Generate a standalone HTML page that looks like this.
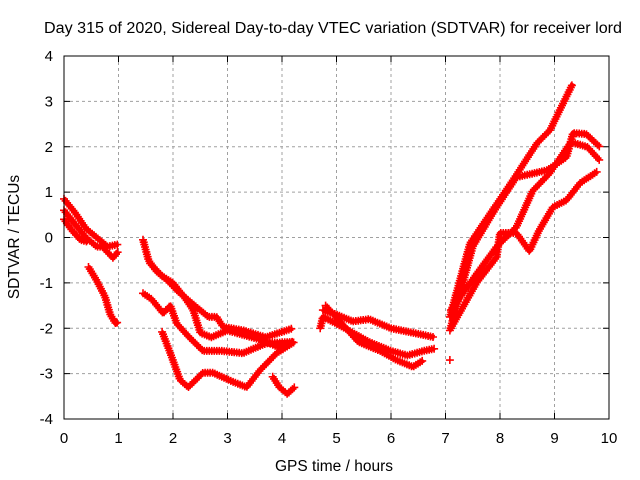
<!DOCTYPE html>
<html><head><meta charset="utf-8"><style>
html,body{margin:0;padding:0;background:#fff;}
svg{display:block;font-family:"Liberation Sans",sans-serif;}
</style></head><body>
<svg id="chart" width="640" height="480">
<text x="333" y="33" text-anchor="middle" font-size="15.5" textLength="578" lengthAdjust="spacingAndGlyphs">Day 315 of 2020, Sidereal Day-to-day VTEC variation (SDTVAR) for receiver lord</text>
<text transform="translate(19,237) rotate(-90)" text-anchor="middle" font-size="15.5">SDTVAR / TECUs</text>
<text x="334" y="471" text-anchor="middle" font-size="15.5">GPS time / hours</text>
<g id="grid"></g><g id="ticks"></g><g id="marks"></g>
<rect x="64" y="56" width="545" height="363" fill="none" stroke="#000" stroke-width="1"/>
</svg>
<script>
const xTicks=[0,1,2,3,4,5,6,7,8,9,10];
const yTicks=[-4,-3,-2,-1,0,1,2,3,4];
const trackA1=[[0,0.85],[0.2,0.55],[0.4,0.2],[0.6,0],[0.8,-0.2],[1.0,-0.15]];
const trackA2=[[0,0.6],[0.2,0.3],[0.4,0],[0.6,-0.2],[0.7,-0.2],[0.9,-0.45],[1.0,-0.3]];
const trackA3=[[0,0.4],[0.15,0.15],[0.3,-0.05],[0.45,-0.1]];
const trackA4=[[0.45,-0.65],[0.6,-0.95],[0.75,-1.3],[0.85,-1.7],[0.95,-1.9],[1.0,-1.85]];
const trackB1=[[1.45,-0.05],[1.55,-0.5],[1.7,-0.75],[1.9,-0.95],[2.1,-1.2],[2.4,-1.5],[2.65,-1.75],[2.8,-1.75],[2.92,-1.97],[3.3,-2.05],[3.7,-2.2],[3.95,-2.1],[4.2,-2.0]];
const trackB2=[[1.58,-0.57],[1.8,-0.85],[2.0,-1.0],[2.2,-1.3],[2.37,-1.6],[2.5,-2.1],[2.7,-2.2],[3.0,-2.05],[3.3,-2.15],[3.6,-2.25],[3.9,-2.4],[4.2,-2.3]];
const trackB3=[[1.45,-1.23],[1.6,-1.35],[1.82,-1.67],[1.95,-1.5],[2.07,-1.9],[2.3,-2.2],[2.55,-2.5],[2.9,-2.5],[3.28,-2.55],[3.72,-2.33],[4.2,-2.3]];
const trackB4=[[1.8,-2.08],[1.95,-2.55],[2.13,-3.14],[2.28,-3.3],[2.55,-2.98],[2.73,-2.98],[3.1,-3.18],[3.35,-3.3],[3.6,-2.92],[3.9,-2.55],[4.23,-2.3]];
const trackB5=[[3.83,-3.07],[3.95,-3.3],[4.1,-3.45],[4.23,-3.3]];
const trackC1=[[4.75,-1.6],[5.0,-1.7],[5.3,-1.85],[5.6,-1.8],[6.0,-2.0],[6.4,-2.1],[6.8,-2.2]];
const trackC2=[[4.7,-2.0],[4.75,-1.75],[5.0,-1.9],[5.3,-2.1],[5.6,-2.3],[6.0,-2.5],[6.3,-2.6],[6.6,-2.5],[6.8,-2.45]];
const trackC3=[[4.8,-1.5],[5.1,-1.9],[5.4,-2.3],[5.8,-2.5],[6.1,-2.7],[6.4,-2.85],[6.6,-2.7]];
const trackD0=[[7.08,-2.7]];
const trackD1=[[7.08,-1.75],[7.45,-0.13],[7.82,0.53],[8.24,1.27],[8.68,2.08],[8.92,2.37],[9.34,3.4]];
const trackD2=[[7.08,-2.05],[7.5,-0.2],[7.9,0.6],[8.3,1.33],[8.86,1.48],[9.22,1.77],[9.34,2.3],[9.58,2.28],[9.83,2.0]];
const trackD3=[[7.1,-2.0],[7.57,-1.0],[7.94,-0.43],[8.0,0.1],[8.3,0.1],[8.54,-0.3],[8.72,0.16],[8.97,0.67],[9.22,0.82],[9.47,1.2],[9.78,1.45]];
const trackD4=[[7.1,-1.6],[7.57,-0.8],[7.94,-0.2],[8.3,0.23],[8.6,1.03],[8.9,1.4],[9.3,2.1],[9.6,2.0],[9.83,1.7]];
const tracks=[trackA1,trackA2,trackA3,trackA4,trackB1,trackB2,trackB3,trackB4,trackB5,trackC1,trackC2,trackC3,trackD0,trackD1,trackD2,trackD3,trackD4];
const NS='http://www.w3.org/2000/svg';
const X0=64,X1=609,Y0=419,Y1=56;
function sx(t){return X0+(t-0)/(10-0)*(X1-X0);}
function sy(v){return Y0-(v+4)/8*(Y0-Y1);}
function mk(tag,attrs,parent){const e=document.createElementNS(NS,tag);for(const k in attrs)e.setAttribute(k,attrs[k]);parent.appendChild(e);return e;}
const grid=document.getElementById('grid'),ticks=document.getElementById('ticks'),marks=document.getElementById('marks');
xTicks.forEach(t=>{const x=sx(t);
 if(t>0&&t<10){const g=mk('line',{x1:x,x2:x,y1:Y0,y2:Y1,stroke:'#a0a0a0','stroke-dasharray':'3,3'},grid);
 
 }
 mk('line',{x1:x,x2:x,y1:Y0,y2:Y0-6,stroke:'#000'},ticks);
 mk('line',{x1:x,x2:x,y1:Y1,y2:Y1+6,stroke:'#000'},ticks);
 const l=mk('text',{x:x,y:443,'text-anchor':'middle','font-size':15},ticks);l.textContent=t;
 
 });
yTicks.forEach(v=>{const y=sy(v);
 if(v>-4&&v<4){const g=mk('line',{x1:X0,x2:X1,y1:y,y2:y,stroke:'#a0a0a0','stroke-dasharray':'3,3'},grid);
 
 }
 mk('line',{x1:X0,x2:X0+6,y1:y,y2:y,stroke:'#000'},ticks);
 mk('line',{x1:X1,x2:X1-6,y1:y,y2:y,stroke:'#000'},ticks);
 const l=mk('text',{x:53,y:y+5,'text-anchor':'end','font-size':15},ticks);l.textContent=v;
 
 });
tracks.forEach((tr,i)=>{
 const g=mk('g',{},marks);
 
 
 const pts=tr.map(p=>[sx(p[0]),sy(p[1])]);
 let d='';
 if(pts.length>1){
  d=pts.map((p,j)=>(j?'L':'M')+p[0].toFixed(1)+' '+p[1].toFixed(1)).join(' ');
  const path=mk('path',{d:d,fill:'none',stroke:'#f00','stroke-width':5,'stroke-linejoin':'round'},g);
  const L=path.getTotalLength();
  let md='';
  for(let s=0;s<=L;s+=2.5){const p=path.getPointAtLength(s);md+=`M${(p.x-4).toFixed(1)} ${p.y.toFixed(1)}h8M${p.x.toFixed(1)} ${(p.y-4).toFixed(1)}v8`;}
  mk('path',{d:md,stroke:'#f00','stroke-width':1.6,fill:'none'},g);
 } else {
  const p=pts[0];
  mk('path',{d:`M${p[0]-4} ${p[1]}h8M${p[0]} ${p[1]-4}v8`,stroke:'#f00','stroke-width':1.6},g);
 }
});
</script>
</body></html>
